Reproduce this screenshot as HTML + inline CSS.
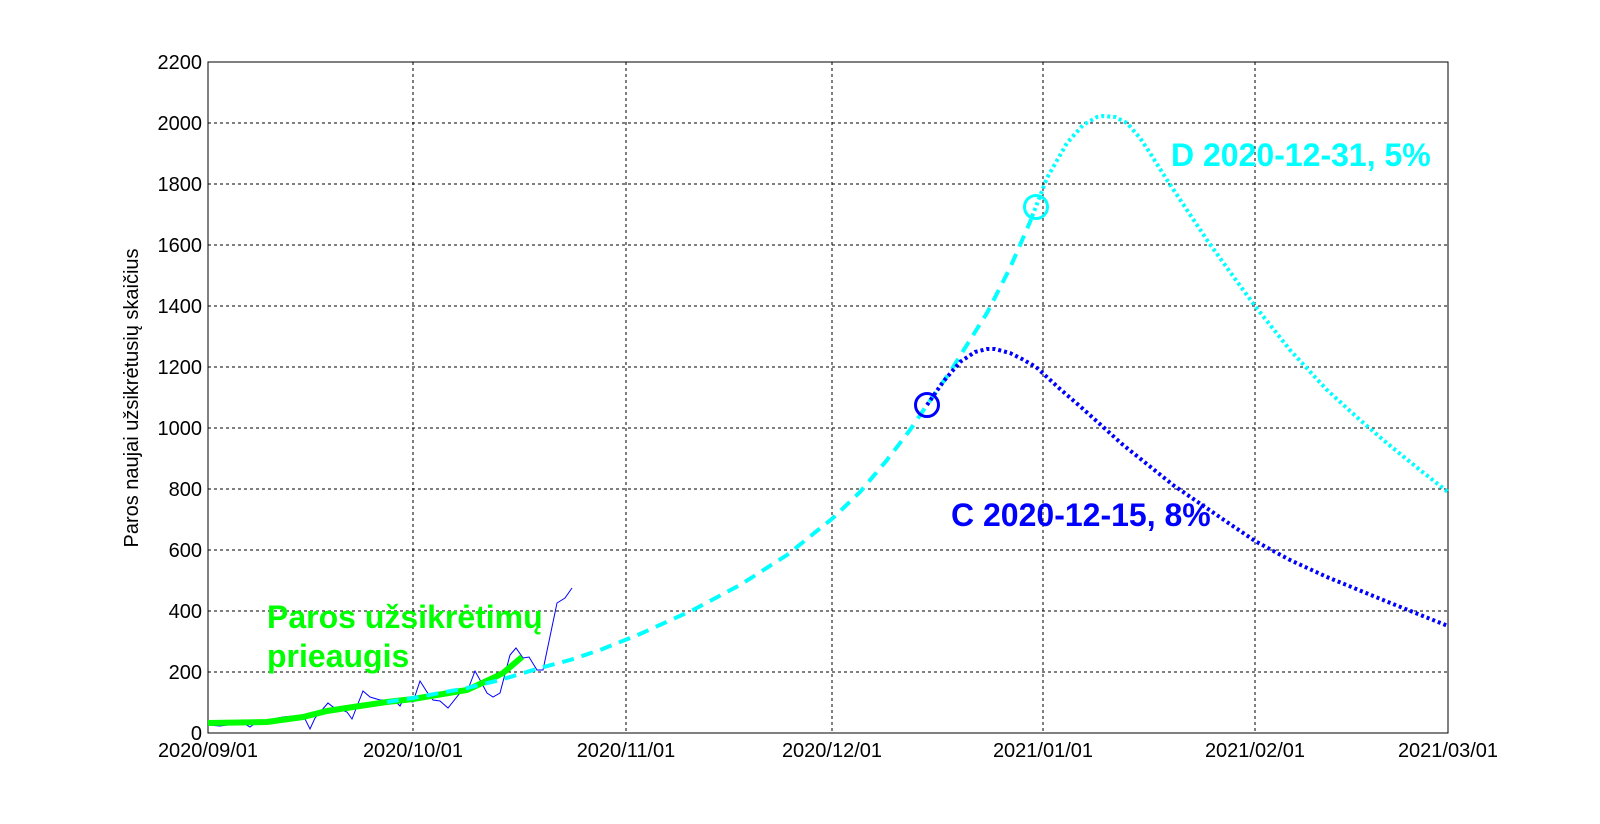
<!DOCTYPE html>
<html><head><meta charset="utf-8"><style>body{margin:0;background:#fff}svg{display:block}text{font-family:"Liberation Sans",sans-serif}</style></head><body>
<svg width="1600" height="824" xmlns="http://www.w3.org/2000/svg">
<rect width="1600" height="824" fill="#fff"/>
<g stroke="#000" stroke-width="1" stroke-dasharray="3,3">
<line x1="413" y1="62" x2="413" y2="733"/><line x1="626" y1="62" x2="626" y2="733"/><line x1="832" y1="62" x2="832" y2="733"/><line x1="1043" y1="62" x2="1043" y2="733"/><line x1="1255" y1="62" x2="1255" y2="733"/>
<line x1="208" y1="123" x2="1448" y2="123"/><line x1="208" y1="184" x2="1448" y2="184"/><line x1="208" y1="245" x2="1448" y2="245"/><line x1="208" y1="306" x2="1448" y2="306"/><line x1="208" y1="367" x2="1448" y2="367"/><line x1="208" y1="428" x2="1448" y2="428"/><line x1="208" y1="489" x2="1448" y2="489"/><line x1="208" y1="550" x2="1448" y2="550"/><line x1="208" y1="611" x2="1448" y2="611"/><line x1="208" y1="672" x2="1448" y2="672"/>
</g>
<rect x="208" y="62" width="1240" height="671" fill="none" stroke="#000" stroke-width="1"/>
<g font-size="20" text-anchor="end">
<text x="202" y="740">0</text><text x="202" y="679">200</text><text x="202" y="618">400</text><text x="202" y="557">600</text><text x="202" y="496">800</text><text x="202" y="435">1000</text><text x="202" y="374">1200</text><text x="202" y="313">1400</text><text x="202" y="252">1600</text><text x="202" y="191">1800</text><text x="202" y="130">2000</text><text x="202" y="69">2200</text>
</g>
<g font-size="20" text-anchor="middle">
<text x="208" y="757">2020/09/01</text><text x="413" y="757">2020/10/01</text><text x="626" y="757">2020/11/01</text><text x="832" y="757">2020/12/01</text><text x="1043" y="757">2021/01/01</text><text x="1255" y="757">2021/02/01</text><text x="1448" y="757">2021/03/01</text>
</g>
<text transform="translate(138,398) rotate(-90)" font-size="20" text-anchor="middle">Paros naujai užsikrėtusių skaičius</text>
<polyline fill="none" stroke="#0000ff" stroke-width="1" points="208,725 220,726 243,723 250,727 257,722 283,717 303,715 310,729 315,718 328,703 333,707 347,712 352,719 363,691 370,697 380,700 387,700 397,703 400,706 403,700 413,702 420,681 427,692 433,700 440,701 448,708 460,693 467,692 475,671 480,680 487,693 493,697 500,693 510,655 516,648 523,658 529,657 537,670 543,670 557,603 565,598 572,588"/>
<polyline fill="none" stroke="#00ff00" stroke-width="6" points="208,723 267,722 303,717 327,711 353,707 387,702 413,699 467,690 493,678 503,673 522,657"/>
<polyline fill="none" stroke="#00ffff" stroke-width="4" stroke-dasharray="12,8" points="387,702 413,698 467,688 500,680 540,668 570,660 600,650 640,634 693,610 740,585 787,555 833,518 860,492 887,460 910,430 927,405 950,372 970,340 987,313 1010,268 1030,222"/>
<polyline fill="none" stroke="#00ffff" stroke-width="4" stroke-dasharray="3,3" points="1030,222 1047,178 1067,143 1083,125 1097,117 1103,116 1115,117 1127,123 1140,138 1150,153 1167,180 1187,210 1207,240 1230,272 1255,306 1290,350 1327,390 1360,420 1388,444 1420,470 1448,492"/>
<polyline fill="none" stroke="#0000ff" stroke-width="4" stroke-dasharray="3,3" points="927,405 943,382 960,362 975,352 987,349 995,349 1010,353 1022,359 1036,367 1060,389 1082,408 1122,444 1173,485 1224,520 1255,541 1290,560 1327,577 1388,602 1448,626"/>
<circle cx="927" cy="405" r="11.5" fill="none" stroke="#0000ff" stroke-width="3"/>
<circle cx="1036" cy="207" r="11.5" fill="none" stroke="#00ffff" stroke-width="3"/>
<text x="1171" y="166" font-size="32" font-weight="bold" fill="#00ffff">D 2020-12-31, 5%</text>
<text x="951" y="526" font-size="32" font-weight="bold" fill="#0000ff">C 2020-12-15, 8%</text>
<text x="267" y="628" font-size="32" font-weight="bold" fill="#00ff00">Paros užsikrėtimų</text>
<text x="267" y="667" font-size="32" font-weight="bold" fill="#00ff00">prieaugis</text>
</svg>
</body></html>
